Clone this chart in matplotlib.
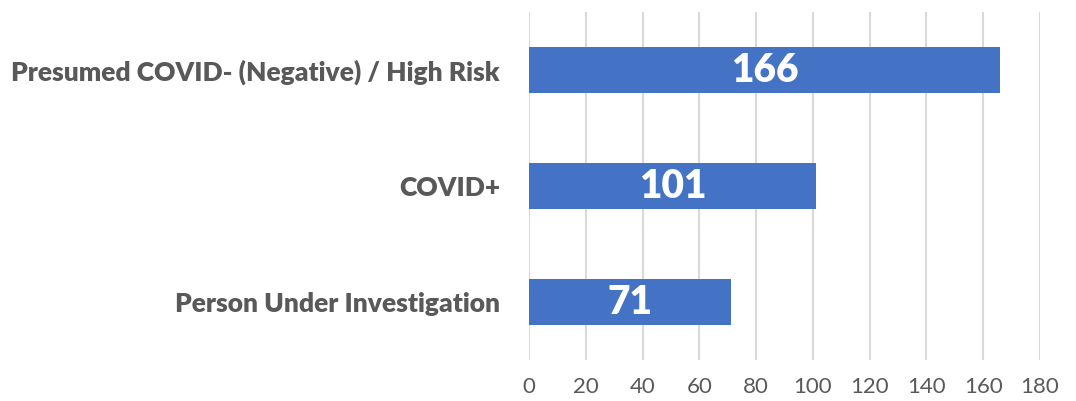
import matplotlib.pyplot as plt

# Data
categories = ['Person Under Investigation', 'COVID+', 'Presumed COVID- (Negative) / High Risk']
counts = [71, 101, 166]
xticks = [0, 20, 40, 60, 80, 100, 120, 140, 160, 180]

BAR_COLOR = '#4472C4'
GRID_COLOR = '#D9D9D9'
TEXT_COLOR = '#595959'

plt.rcParams['font.family'] = ['Lato', 'DejaVu Sans']

fig = plt.figure(figsize=(10.76, 4.01), dpi=100)
ax = fig.add_axes([0.4917, 0.102, 0.4748, 0.868])

pos = list(range(len(categories)))
bars = ax.barh(pos, counts, height=0.395, color=BAR_COLOR, zorder=3)

for bar, val in zip(bars, counts):
    ax.text(bar.get_width() / 2, bar.get_y() + bar.get_height() / 2, str(val),
            ha='center', va='center', color='white', fontsize=28,
            fontweight='heavy', zorder=4)

ax.set_xlim(0, 180)
ax.set_ylim(-0.5, 2.5)
ax.set_xticks(xticks)
ax.set_yticks(pos)
ax.set_yticklabels(categories, fontsize=19, fontweight='heavy', color=TEXT_COLOR)
ax.tick_params(axis='x', labelsize=16, labelcolor=TEXT_COLOR, length=0, pad=12)
ax.tick_params(axis='y', length=0, pad=21)

ax.grid(axis='x', color=GRID_COLOR, linewidth=1.5, zorder=0)
for s in ax.spines.values():
    s.set_visible(False)

fig.savefig('out.png', dpi=100)
